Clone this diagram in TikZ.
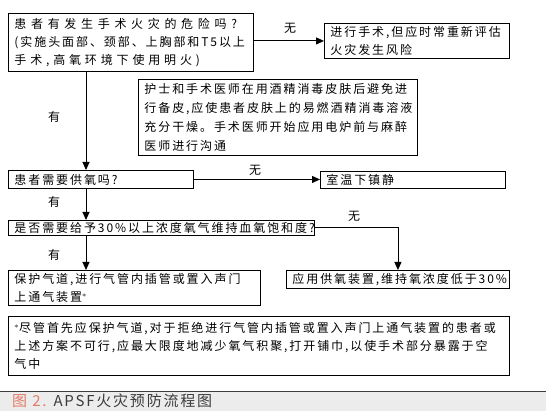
\documentclass[tikz,border=0pt]{standalone}
\usepackage{fontspec}
\setmainfont[LetterSpace=16]{Noto Sans CJK SC}
\newfontfamily\widecjk[LetterSpace=39]{Noto Sans CJK SC}
\newfontfamily\midcjk[LetterSpace=32]{Noto Sans CJK SC}
\newfontfamily\capfont[LetterSpace=12]{Noto Sans CJK SC}
\usetikzlibrary{arrows.meta}
\definecolor{capbg}{RGB}{236,236,236}
\definecolor{capred}{RGB}{226,122,104}
\definecolor{capgray}{RGB}{60,60,60}
\tikzset{
  box/.style={draw=black, line width=0.9pt, anchor=north west, inner xsep=6pt, inner ysep=0pt,
    align=left, font=\fontsize{12}{18}\selectfont},
  conn/.style={line width=0.9pt, -{Triangle[length=8pt,width=7pt]}},
  lbl/.style={font=\fontsize{12}{14}\selectfont, inner sep=0pt}
}
\begin{document}
\begin{tikzpicture}[x=1pt,y=-1pt]
\useasboundingbox (0,0) rectangle (546,411);
\fill[white] (0,0) rectangle (546,411);
% boxes
\node[box, minimum width=245pt, minimum height=58pt, text width=233pt] (b1) at (8,13)
  {{\widecjk 患者有发生手术火灾的危险吗?}\\(实施头面部、颈部、上胸部和T5以上\\{\midcjk 手术,高氧环境下使用明火)}};
\node[box, minimum width=185pt, minimum height=35pt, text width=173pt] (b2) at (324,23)
  {进行手术,但应时常重新评估\\火灾发生风险};
\node[box, minimum width=279pt, minimum height=76pt, text width=267pt, font=\fontsize{12}{19}\selectfont] (b3) at (138,79)
  {护士和手术医师在用酒精消毒皮肤后避免进\\行备皮,应使患者皮肤上的易燃酒精消毒溶液\\充分干燥。手术医师开始应用电炉前与麻醉\\医师进行沟通};
\node[box, minimum width=185pt, minimum height=18pt, text width=173pt] (b4) at (8,170)
  {患者需要供氧吗?};
\node[box, minimum width=185pt, minimum height=17pt, text width=173pt] (b5) at (320,171)
  {室温下镇静};
\node[box, minimum width=306pt, minimum height=15pt, text width=294pt] (b6) at (8,220)
  {是否需要给予30\%以上浓度氧气维持血氧饱和度?};
\node[box, minimum width=223pt, minimum height=18pt, text width=211pt] (b7) at (286,270)
  {应用供氧装置,维持氧浓度低于30\%};
\node[box, minimum width=252pt, minimum height=35pt, text width=240pt] (b8) at (8,270)
  {保护气道,进行气管内插管或置入声门\\上通气装置$^{*}$};
\node[box, minimum width=501pt, minimum height=59pt, text width=489pt] (b9) at (8,316)
  {$^{*}$尽管首先应保护气道,对于拒绝进行气管内插管或置入声门上通气装置的患者或\\上述方案不可行,应最大限度地减少氧气积聚,打开铺巾,以使手术部分暴露于空\\气中};
% connectors
\coordinate (vx) at (86,0);
\draw[conn] (b1.east |- b2.west) -- (b2.west);
\draw[conn] (b1.south -| vx) -- (b4.north -| vx);
\draw[conn] (b4.east) -- (b4.east -| b5.west);
\draw[conn] (b4.south -| vx) -- (b6.north -| vx);
\draw[conn] (b6.east) -| (b7.north);
\draw[conn] (b6.south -| vx) -- (b8.north -| vx);
% labels
\node[lbl] (l1) at (290,28) {无};
\node[lbl] (l2) at (54,117) {有};
\node[lbl] (l3) at (255,170) {无};
\node[lbl] (l4) at (54,202) {有};
\node[lbl] (l5) at (354,216) {无};
\node[lbl] (l6) at (54,255) {有};
% caption
\fill[capbg] (0,391) rectangle (546,411);
\draw[capgray, line width=1pt] (0,391) -- (546,391);
\node[anchor=west, inner sep=0pt, font=\capfont\fontsize{15}{17}\selectfont] (cap) at (12,401)
  {\textcolor{capred}{图 2.} \textcolor{capgray}{APSF火灾预防流程图}};
\end{tikzpicture}
\end{document}
